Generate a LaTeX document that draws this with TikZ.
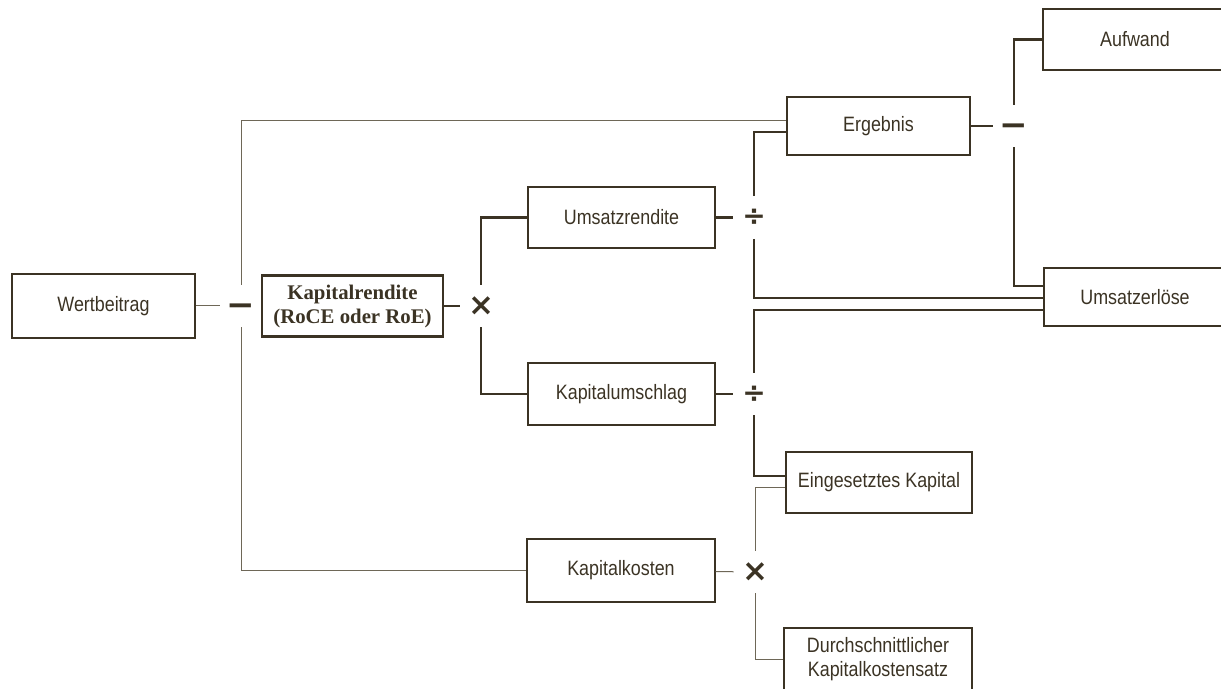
\documentclass[tikz,border=0pt]{standalone}
\usepackage{fontspec}
\setmainfont{Liberation Sans}[FakeStretch=0.86]
\newfontfamily\boldserif{Liberation Serif}
\newfontfamily\opfont{DejaVu Sans}
\definecolor{ink}{HTML}{3B3324}
\definecolor{inklight}{HTML}{6E6757}

\begin{document}
\begin{tikzpicture}[x=0.5pt,y=-0.5pt,
  box/.style={draw=ink,text=ink,align=center,inner sep=0pt,font=\fontsize{10.4}{12}\selectfont},
  boxthick/.style={box,line width=1.3pt},
  boxthin/.style={box,line width=0.6pt},
  op/.style={text=ink,minimum size=21pt,inner sep=0pt,font=\opfont\bfseries\fontsize{14}{14}\selectfont},
  opminus/.style={op,text height=10.9pt,text depth=0pt,font=\opfont\bfseries\fontsize{17}{17}\selectfont},
  optimes/.style={op,font=\opfont\bfseries\fontsize{15.5}{15.5}\selectfont},
  linkthick/.style={draw=ink,line width=1.1pt},
  linkthin/.style={draw=inklight,line width=0.5pt}]
\useasboundingbox (0,0) rectangle (1221,689);
%\draw[-,color=black,dashed] (0,0) grid[step=100] (1221,689);
% boxes
\node[boxthin,minimum width=91.5pt,minimum height=32pt] (wert) at (103.5,306){Wertbeitrag};
\node[boxthick,minimum width=90.5pt,minimum height=30.5pt] (rendite) at (352.5,306){\boldserif\bfseries Kapitalrendite\\\boldserif\bfseries (RoCE oder RoE)};
\node[boxthick,minimum width=93.5pt,minimum height=30.5pt] (umsrend) at (621.5,217.5){Umsatzrendite};
\node[boxthick,minimum width=93.5pt,minimum height=31pt] (kapum) at (621.5,394){Kapitalumschlag};
\node[boxthin,minimum width=94pt,minimum height=31.5pt] (kapko) at (621,570.5){Kapitalkosten};
\node[boxthick,minimum width=91.5pt,minimum height=29pt] (ergeb) at (878.5,126){Ergebnis};
\node[boxthick,minimum width=93pt,minimum height=30.5pt] (eingkap) at (879,482.5){Eingesetztes Kapital};
\node[boxthin,minimum width=94pt,minimum height=31pt] (durch) at (878,659){Durchschnittlicher\\Kapitalkostensatz};
\node[boxthick,minimum width=92pt,minimum height=30.5pt] (aufw) at (1135,39.5){Aufwand};
\node[boxthick,minimum width=91pt,minimum height=29pt] (umserl) at (1135,297){Umsatzerlöse};
% operators
\node[opminus] (minus1) at (241,306){−};
\node[optimes] (times1) at (481,306){×};
\node[op] (div1) at (754,217.5){÷};
\node[op] (div2) at (754,394){÷};
\node[opminus] (minus2) at (1014,126){−};
\node[optimes] (times2) at (755,572){×};
% links
\draw[linkthin] (wert) -- (minus1);
\draw[linkthin] (minus1.north) |- ([yshift=2.5pt]ergeb.west);
\draw[linkthin] (minus1.south) |- (kapko.west);
\draw[linkthick] (rendite) -- (times1);
\draw[linkthick] (times1.north) |- (umsrend.west);
\draw[linkthick] (times1.south) |- (kapum.west);
\draw[linkthick] (umsrend) -- (div1);
\draw[linkthick] (div1.north) |- ([yshift=-3pt]ergeb.west);
\draw[linkthick] (div1.south) |- ([yshift=-0.5pt]umserl.west);
\draw[linkthick] (kapum) -- (div2);
\draw[linkthick] (div2.north) |- ([yshift=-6.5pt]umserl.west);
\draw[linkthick] (div2.south) |- ([yshift=3.25pt]eingkap.west);
\draw[linkthick] (ergeb) -- (minus2);
\draw[linkthick] (minus2.north) |- (aufw.west);
\draw[linkthick] (minus2.south) |- ([yshift=5.5pt]umserl.west);
\draw[linkthin] (kapko) -- (times2);
\draw[linkthin] (times2.north) |- ([yshift=-2.75pt]eingkap.west);
\draw[linkthin] (times2.south) |- (durch.west);
\end{tikzpicture}
\end{document}
